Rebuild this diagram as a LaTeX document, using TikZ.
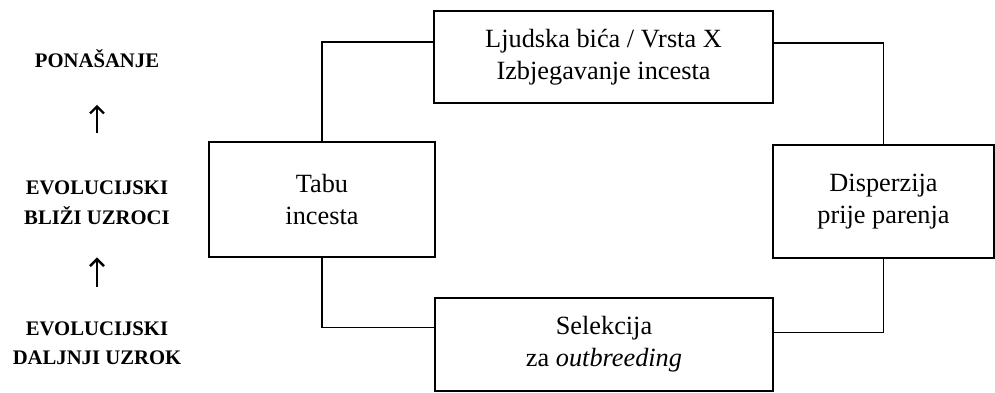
\documentclass[tikz,border=0pt]{standalone}
\usepackage{fontspec}
\setmainfont{Liberation Serif}
\usetikzlibrary{calc,arrows.meta}
\begin{document}
\begin{tikzpicture}[x=1pt,y=-1pt,
  lbl/.style={align=center,inner sep=0pt,font=\fontsize{20.7}{29.5}\selectfont\bfseries},
  box/.style={draw,line width=1.4pt,rectangle,align=center,inner sep=0pt,font=\fontsize{26.3}{32}\selectfont},
  link/.style={line width=1.4pt},
  uparrow/.style={line width=2.4pt,-{Straight Barb[length=7pt,width=14pt,line width=2.4pt]}}
]
\useasboundingbox (0,0) rectangle (995,393);
% left labels
\node[lbl] (pon) at (97,58.5) {PONAŠANJE};
\node[lbl] (ev1) at (97,202.5) {EVOLUCIJSKI\\BLIŽI UZROCI};
\node[lbl] (ev2) at (97,343) {EVOLUCIJSKI\\DALJNJI UZROK};
\draw[uparrow,shorten <=48pt,shorten >=37pt] (ev1.north) -- (pon.south);
\draw[uparrow,shorten <=34pt,shorten >=33pt] (ev2.north) -- (ev1.south);
% boxes
\node[box,minimum width=339pt,minimum height=92pt] (top) at (603.5,57) {Ljudska bića / Vrsta X\\Izbjegavanje incesta};
\node[box,minimum width=226pt,minimum height=115pt] (tabu) at (322,199.5) {Tabu\\incesta};
\node[box,minimum width=221pt,minimum height=113pt] (disp) at (883.5,201.5) {Disperzija\\prije parenja};
\node[box,minimum width=338pt,minimum height=93pt] (sel) at (604,344.5) {Selekcija\\za \textit{outbreeding}};
% connectors
\draw[link] (tabu.north) |- ($(top.north west)!0.34!(top.south west)$);
\draw[link] ($(top.north east)!0.35!(top.south east)$) -| (disp.north);
\draw[link] (disp.south) |- ($(sel.north east)!0.37!(sel.south east)$);
\draw[link] (tabu.south) |- ($(sel.north west)!0.32!(sel.south west)$);
\end{tikzpicture}
\end{document}
